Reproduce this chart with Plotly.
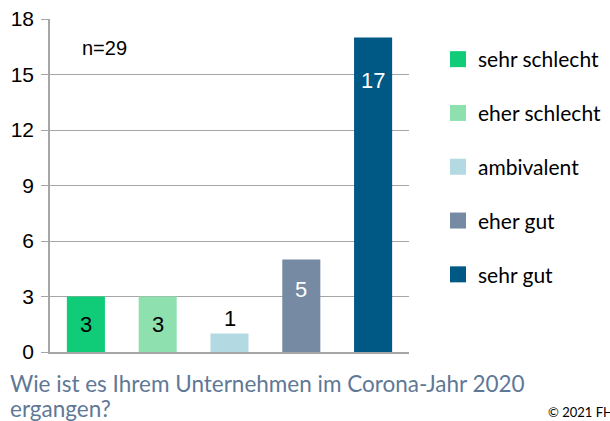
import plotly.graph_objects as go

categories = ["sehr schlecht", "eher schlecht", "ambivalent", "eher gut", "sehr gut"]
values = [3, 3, 1, 5, 17]
colors = ["#10CC78", "#8EE1AF", "#B3D9E2", "#778AA3", "#005885"]
label_colors = ["black", "black", "black", "white", "white"]
label_shift = [-28, -28, 15, -30, -43]
y_ticks = [0, 3, 6, 9, 12, 15, 18]
question_lines = ["Wie ist es Ihrem Unternehmen im Corona-Jahr 2020", "ergangen?"]

fig = go.Figure()
for i, (c, v) in enumerate(zip(categories, values)):
    fig.add_trace(go.Bar(x=[c], y=[v], marker=dict(color=colors[i], line=dict(width=0)),
                         width=0.53, showlegend=False, hoverinfo="skip"))
for i, c in enumerate(categories):
    fig.add_trace(go.Scatter(x=[None], y=[None], mode="markers", name=c,
                             marker=dict(symbol="square", size=16, color=colors[i]),
                             legendgroup=c, showlegend=True))

for i, (c, v) in enumerate(zip(categories, values)):
    fig.add_annotation(x=c, y=v, text=str(v), showarrow=False, yanchor="middle",
                       yshift=label_shift[i],
                       font=dict(family="Liberation Sans, Arial", size=22, color=label_colors[i]))

fig.add_annotation(x=(80 - 50) / 359, y=1 - (48 - 19) / 333, xref="paper", yref="paper",
                   text="n=29", showarrow=False, xanchor="left", yanchor="middle",
                   font=dict(family="Liberation Sans, Arial", size=20, color="black"))

fig.update_layout(
    width=610, height=421,
    margin=dict(l=50, r=201, t=19, b=69, autoexpand=False),
    paper_bgcolor="white", plot_bgcolor="white",
    barmode="overlay",
    xaxis=dict(categoryorder="array", categoryarray=categories, showticklabels=False,
               showline=True, linecolor="#A6A6A6", linewidth=1.5, ticks="",
               showgrid=False, zeroline=False, fixedrange=True),
    yaxis=dict(range=[0, 18], tickvals=y_ticks, showgrid=True, gridcolor="#A6A6A6", gridwidth=1.2,
               showline=True, linecolor="#A6A6A6", linewidth=1.5, ticks="outside", ticklen=7,
               tickcolor="#A6A6A6", zeroline=False, ticklabelstandoff=3, automargin=False,
               tickfont=dict(family="Liberation Sans, Arial", size=21, color="black")),
    legend=dict(x=(438 - 50) / 359, xanchor="left", y=1 - (39 - 19) / 333, yanchor="top",
                traceorder="grouped", tracegroupgap=23.5,
                font=dict(family="Lato, Carlito, Calibri", size=21, color="black"),
                bgcolor="rgba(0,0,0,0)"),
    showlegend=True,
)

for k, (line, ypix) in enumerate(zip(question_lines, [383, 408])):
    fig.add_annotation(x=-42 / 359, y=-(ypix - 352) / 333, xref="paper", yref="paper",
                       text=line, showarrow=False, xanchor="left", yanchor="middle", align="left",
                       font=dict(family="Lato, Carlito, Calibri", size=22.5, color="#5F7896"))
fig.add_annotation(x=(546 - 50) / 359, y=-(412 - 352) / 333, xref="paper", yref="paper",
                   text="© 2021 FHNW", showarrow=False, xanchor="left", yanchor="middle",
                   font=dict(family="Lato, Carlito, Calibri", size=13, color="black"))

fig.write_html("out.html", config={"displayModeBar": False},
               post_script="document.body.style.margin='0';document.body.style.padding='0';")
